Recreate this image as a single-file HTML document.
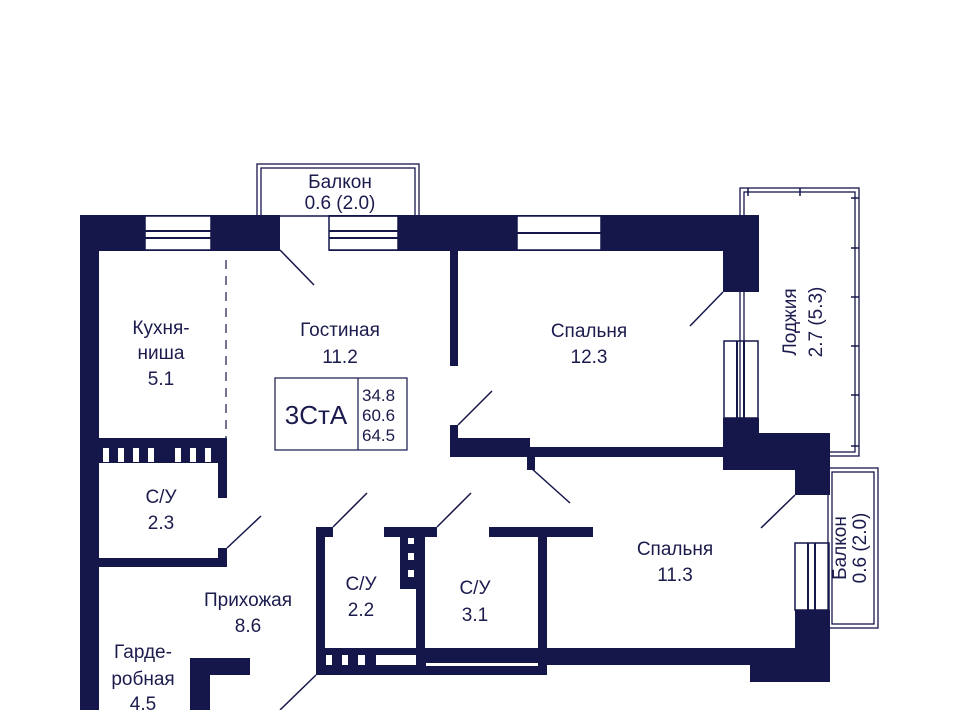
<!DOCTYPE html>
<html><head><meta charset="utf-8"><style>
html,body{margin:0;padding:0;background:#fff;width:960px;height:710px;overflow:hidden}
svg{display:block}
text{font-family:"Liberation Sans",sans-serif;fill:#1b1b4d;font-size:19px;text-anchor:middle}
text.l{text-anchor:start;font-size:17px}
</style></head><body>
<svg width="960" height="710" viewBox="0 0 960 710" xmlns="http://www.w3.org/2000/svg">
<g fill="#15164a">
<rect x="80" y="215" width="200" height="36"/>
<rect x="329" y="215" width="430" height="36"/>
<rect x="723" y="215" width="36" height="77"/>
<rect x="80" y="215" width="19" height="495"/>
<rect x="450" y="250" width="8" height="116"/>
<rect x="450" y="425" width="8" height="32"/>
<rect x="450" y="438" width="80" height="19"/>
<rect x="527" y="447" width="197" height="10"/>
<rect x="527" y="447" width="8" height="23"/>
<rect x="723" y="418" width="36" height="52"/>
<rect x="723" y="433" width="107" height="37"/>
<rect x="795" y="433" width="35" height="62"/>
<rect x="80" y="438" width="147" height="25"/>
<rect x="218" y="438" width="9" height="60"/>
<rect x="80" y="558" width="147" height="9"/>
<rect x="218" y="548" width="9" height="19"/>
<rect x="190" y="658" width="60" height="17"/>
<rect x="190" y="658" width="20" height="52"/>
<rect x="316" y="527" width="9" height="148"/>
<rect x="316" y="527" width="17" height="10"/>
<rect x="316" y="648" width="231" height="27"/>
<rect x="384" y="527" width="53" height="10"/>
<rect x="400" y="527" width="16" height="62"/>
<rect x="416" y="527" width="9" height="148"/>
<rect x="489" y="527" width="104" height="10"/>
<rect x="538" y="527" width="9" height="148"/>
<rect x="538" y="648" width="292" height="17"/>
<rect x="750" y="648" width="80" height="34"/>
<rect x="795" y="610" width="35" height="72"/>
</g>
<g fill="#fff" stroke="#15164a" stroke-width="1.5">
<rect x="145" y="216" width="66" height="34"/>
<rect x="329" y="216" width="69" height="34"/>
<rect x="517" y="216" width="84" height="34"/>
<rect x="724" y="341" width="34" height="77"/>
<rect x="795" y="543" width="34" height="67"/>
</g>
<g stroke="#15164a" stroke-width="2">
<line x1="145" y1="231" x2="211" y2="231"/><line x1="145" y1="238" x2="211" y2="238"/>
<line x1="329" y1="231" x2="398" y2="231"/><line x1="329" y1="238" x2="398" y2="238"/>
<line x1="517" y1="233" x2="601" y2="233"/>
<line x1="737" y1="341" x2="737" y2="418"/><line x1="744" y1="341" x2="744" y2="418"/>
<line x1="808" y1="543" x2="808" y2="610"/><line x1="815" y1="543" x2="815" y2="610"/>
</g>
<g fill="#fff">
<rect x="103" y="448" width="6" height="14"/><rect x="118" y="448" width="6" height="14"/><rect x="133" y="448" width="6" height="14"/><rect x="148" y="448" width="6" height="14"/><rect x="175" y="448" width="6" height="14"/><rect x="190" y="448" width="6" height="14"/><rect x="205" y="448" width="6" height="14"/>
<rect x="326" y="655" width="6" height="10"/><rect x="342" y="655" width="6" height="10"/><rect x="358" y="655" width="7" height="10"/><rect x="376" y="655" width="40" height="10"/>
<rect x="426" y="663" width="112" height="3"/>
<rect x="408" y="538" width="6" height="6"/><rect x="408" y="553" width="6" height="7"/><rect x="408" y="570" width="6" height="7"/>
</g>
<g fill="none" stroke="#15164a" stroke-width="1.3">
<rect x="257" y="164" width="162" height="52"/>
<rect x="261" y="168" width="154" height="48"/>
<rect x="740" y="188" width="119" height="268"/>
<rect x="744" y="192" width="111" height="260"/>
<rect x="828" y="468" width="50" height="160"/>
<rect x="832" y="472" width="42" height="152"/>
</g>
<g stroke="#15164a" stroke-width="1.5">
<line x1="851" y1="198" x2="859" y2="198"/><line x1="851" y1="248" x2="859" y2="248"/><line x1="851" y1="297" x2="859" y2="297"/><line x1="851" y1="346" x2="859" y2="346"/><line x1="851" y1="395" x2="859" y2="395"/><line x1="851" y1="446" x2="859" y2="446"/>
<line x1="800" y1="188" x2="800" y2="196"/><line x1="748" y1="188" x2="748" y2="196"/><line x1="760" y1="448" x2="760" y2="456"/>
</g>
<g stroke="#15164a" stroke-width="1.5">
<line x1="280" y1="250" x2="314" y2="285"/>
<line x1="458" y1="425" x2="492" y2="391"/>
<line x1="723" y1="292" x2="690" y2="326"/>
<line x1="531" y1="468" x2="570" y2="503"/>
<line x1="795" y1="495" x2="761" y2="528"/>
<line x1="227" y1="548" x2="261" y2="516"/>
<line x1="333" y1="527" x2="367" y2="493"/>
<line x1="437" y1="527" x2="471" y2="493"/>
<line x1="316" y1="675" x2="280" y2="710"/>
</g>
<line x1="226" y1="260" x2="226" y2="438" stroke="#15164a" stroke-width="1.2" stroke-dasharray="9,7"/>
<rect x="275" y="378" width="132" height="72" fill="none" stroke="#15164a" stroke-width="1.2"/>
<line x1="358" y1="378" x2="358" y2="450" stroke="#15164a" stroke-width="1.2"/>
<text x="316" y="424" style="font-size:26px">3СтА</text>
<text class="l" x="362" y="401">34.8</text><text class="l" x="362" y="421">60.6</text><text class="l" x="362" y="441">64.5</text>
<g style="font-size:17px"><text x="340" y="188">Балкон</text><text x="340" y="209">0.6 (2.0)</text></g>
<text x="161" y="334">Кухня-</text><text x="161" y="359">ниша</text><text x="161" y="385">5.1</text>
<text x="340" y="336">Гостиная</text><text x="340" y="363">11.2</text>
<text x="589" y="337">Спальня</text><text x="589" y="363">12.3</text>
<text transform="translate(796,322) rotate(-90)">Лоджия</text>
<text transform="translate(822,322) rotate(-90)">2.7 (5.3)</text>
<text x="161" y="503">С/У</text><text x="161" y="529">2.3</text>
<text x="248" y="606">Прихожая</text><text x="248" y="632">8.6</text>
<text x="361" y="590">С/У</text><text x="361" y="616">2.2</text>
<text x="475" y="594">С/У</text><text x="475" y="621">3.1</text>
<text x="675" y="555">Спальня</text><text x="675" y="581">11.3</text>
<g style="font-size:17px"><text transform="translate(846,548) rotate(-90)">Балкон</text><text transform="translate(866,548) rotate(-90)">0.6 (2.0)</text></g>
<text x="143" y="658">Гарде-</text><text x="143" y="685">робная</text><text x="143" y="710">4.5</text>
</svg>
</body></html>
